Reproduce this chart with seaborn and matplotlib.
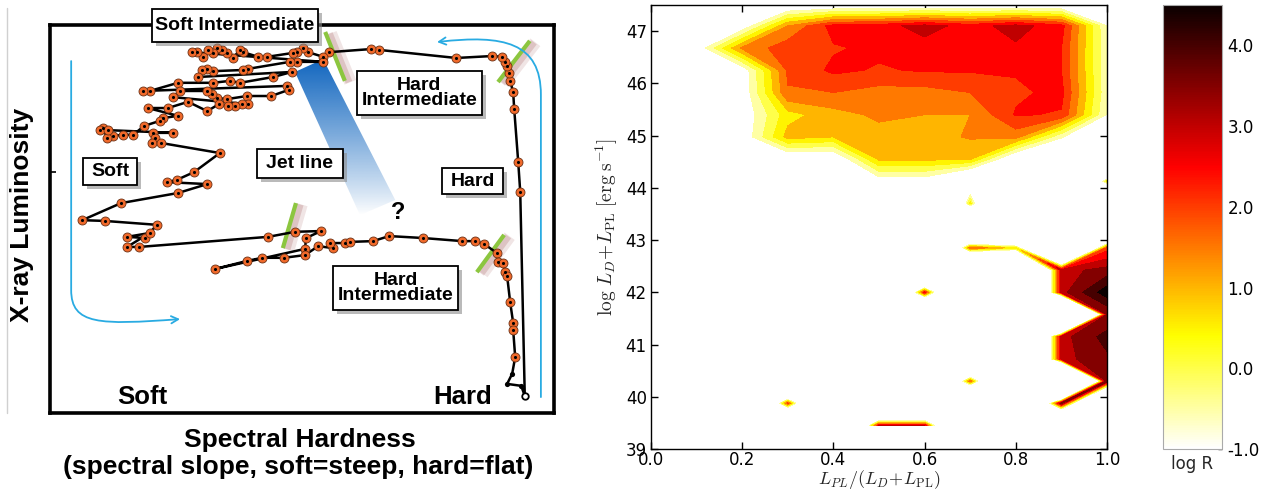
import numpy as np
import matplotlib
matplotlib.use("Agg")
import matplotlib.pyplot as plt
import matplotlib.patheffects as pe
from matplotlib.patches import Rectangle, Polygon, FancyArrowPatch
from matplotlib.path import Path
from matplotlib.colors import Normalize
from matplotlib.cm import ScalarMappable
from matplotlib.lines import Line2D
from matplotlib.tri import Triangulation
import pandas as pd
import seaborn as sns

sns.set_style("white", {"axes.edgecolor": "black", "xtick.color": "black",
                        "ytick.color": "black", "text.color": "black"})
plt.rcParams["font.family"] = ["DejaVu Sans"]
plt.rcParams["mathtext.fontset"] = "cm"
plt.rcParams["axes.unicode_minus"] = False

BOLD = dict(family="Liberation Sans", weight="bold")

# ---------------------------------------------------------------------------
# Left panel: hardness-intensity track (hardness and luminosity in % of box)
# ---------------------------------------------------------------------------
track_hardness = [
    94.2, 93.3, 92.9, 92.1, 91.9, 91.3, 91.1, 90.7, 90.3, 89.7, 87.7, 80.6, 65.3, 63.7,
    55.4, 54.2, 51.2, 50.2, 49.0, 48.2, 43.1, 41.3, 38.3, 37.7, 36.3, 35.1, 34.1, 33.1,
    32.3, 31.4, 30.4, 29.2, 28.2, 54.2, 49.0, 47.6, 39.3, 38.3, 32.3, 31.2, 30.2, 29.4,
    48.0, 44.3, 37.7, 35.7, 32.3, 25.4, 19.8, 18.5, 47.0, 47.4, 43.9, 39.1, 35.1, 33.1,
    32.1, 31.2, 25.8, 24.4, 39.3, 38.1, 36.7, 35.3, 33.5, 31.2, 27.4, 23.4, 19.4, 25.4,
    22.4, 21.8, 18.7, 16.5, 14.5, 12.5, 11.3, 10.5, 9.9, 11.5, 24.4, 20.4, 20.8, 20.2,
    22.0, 33.7, 28.6, 25.2, 23.2, 31.2, 25.4, 14.1, 6.4, 10.9, 21.2, 18.9, 15.3, 19.8,
    15.3, 17.7, 43.3, 48.6, 53.8, 50.8, 50.6, 32.7, 39.1, 42.1, 46.4, 50.6, 53.2, 56.2,
    55.6, 58.5, 59.5, 64.1, 67.3, 74.0, 81.8, 84.3, 86.1, 88.7, 88.9, 89.9, 90.3, 90.7,
    91.3, 91.9, 91.9, 92.3, 91.7, 90.7, 93.5, 94.2,
]
track_luminosity = [
    4.4, 57.0, 64.7, 78.4, 82.7, 85.6, 87.6, 89.4, 90.5, 91.8, 92.0, 91.5, 93.6, 93.8,
    93.0, 91.8, 93.0, 94.1, 93.0, 92.8, 91.8, 91.8, 93.0, 93.6, 91.5, 92.8, 93.6, 94.1,
    92.8, 93.6, 91.8, 93.0, 93.0, 90.5, 90.5, 90.5, 88.7, 88.4, 88.1, 88.7, 88.4, 86.6,
    87.9, 86.6, 85.1, 85.6, 85.1, 85.1, 83.0, 83.0, 84.3, 83.3, 81.7, 81.7, 80.9, 81.2,
    82.2, 83.0, 83.0, 81.4, 79.6, 79.6, 79.1, 79.1, 79.6, 77.8, 80.2, 78.6, 78.6, 76.6,
    76.0, 75.3, 74.0, 71.7, 71.7, 71.4, 70.9, 73.5, 72.9, 72.9, 72.2, 72.2, 70.9, 69.6,
    69.6, 67.0, 62.1, 60.1, 59.5, 59.0, 56.7, 54.1, 49.7, 49.5, 48.5, 45.1, 45.4, 46.4,
    42.8, 42.8, 45.4, 46.7, 46.9, 45.1, 42.3, 37.1, 39.2, 40.0, 40.0, 40.7, 43.0, 42.5,
    43.8, 43.8, 44.1, 44.3, 45.6, 45.1, 44.3, 44.3, 43.6, 41.2, 38.9, 38.7, 36.3, 35.3,
    28.6, 23.2, 21.4, 14.4, 10.1, 7.5, 7.0, 4.4,
]

# state labels: text, box x0, box width, box y0, box height (same % units)
state_text = ["Soft Intermediate", "Hard\nIntermediate", "Jet line", "Soft", "Hard",
              "Hard\nIntermediate"]
state_x0 = [20.2, 60.9, 41.1, 6.6, 77.8, 56.2]
state_w = [32.9, 24.8, 17.0, 10.7, 12.1, 24.8]
state_y0 = [95.6, 76.8, 60.6, 58.8, 56.4, 26.6]
state_h = [8.5, 11.3, 7.5, 7.0, 6.7, 11.3]

# state transition markers (green bars): endpoints
transition_h = [(54.6, 58.5), (95.2, 88.9), (48.8, 46.2), (90.1, 84.7)]
transition_l = [(98.2, 85.6), (95.9, 85.3), (54.1, 42.5), (45.9, 36.3)]

# jet line band corners
jet_h = [48.6, 54.2, 68.5, 61.5]
jet_l = [87.9, 91.2, 54.9, 51.0]

# ---------------------------------------------------------------------------
# Right panel: log R on a grid of power-law fraction vs. total luminosity
# ---------------------------------------------------------------------------
frac_pl = [0.0, 0.1, 0.2, 0.3, 0.4, 0.5, 0.6, 0.7, 0.8, 0.9, 1.0]
log_lum = [39.45, 39.875, 40.3, 40.725, 41.15, 41.575, 42.0, 42.425, 42.85, 43.275,
           43.7, 44.125, 44.55, 44.975, 45.4, 45.825, 46.25, 46.675, 47.1, 47.525]
E = -14.0  # empty bin
log_r = [
    [E, E, E, E, E, 2.6, 2.6, E, E, E, E],
    [E, E, E, 1.8, E, E, E, E, E, 3.4, E],
    [E, E, E, E, E, E, E, 1.5, E, -25.0, 3.5],
    [E, E, E, E, E, E, E, E, E, 2.8, 3.4],
    [E, E, E, E, E, E, E, E, E, 2.8, 3.7],
    [E, E, E, E, E, E, E, E, E, -25.0, 3.0],
    [E, E, E, E, E, E, 2.3, E, E, 2.8, 4.3],
    [E, E, E, E, E, E, E, E, E, 2.8, 3.2],
    [E, E, E, E, E, E, E, 1.5, 0.2, E, 1.8],
    [E, E, E, E, E, E, E, E, E, E, E],
    [E, E, E, E, E, E, E, 0.3, E, E, E],
    [E, E, E, E, -2.0, -1.4, -1.4, -3.0, E, E, 0.3],
    [E, E, -2.0, -1.8, -1.8, 0.6, 0.6, 0.55, -2.0, -2.0, E],
    [E, -2.0, -1.5, 0.7, 0.5, 0.8, 0.8, 1.05, 1.2, -0.95, -2.0],
    [E, -2.0, -1.5, 0.3, 0.8, 1.1, 1.0, 1.0, 2.05, 1.95, -1.05],
    [E, -2.0, -1.5, 1.45, 1.5, 1.3, 1.3, 1.5, 1.9, 2.15, -0.9],
    [E, -2.0, -1.45, 1.6, 2.1, 1.95, 2.05, 2.05, 2.05, 2.0, -0.9],
    [E, -1.5, 1.1, 1.8, 1.95, 2.1, 2.3, 2.2, 2.42, 2.0, -0.9],
    [E, -2.0, -1.5, 1.0, 2.2, 2.3, 2.7, 2.3, 2.7, 2.2, -1.0],
    [E, E, -2.0, -2.0, -2.0, -2.0, -2.0, -2.0, -2.0, -2.0, -2.0],
]
# saddle cells joined along a diagonal: (column, row) of lower-left node, diagonal
saddle_cells = [(8, 7, "falling"), (9, 1, "rising")]
levels = [-1.0, -0.5, 0.0, 0.5, 1.0, 1.5, 2.0, 2.5, 3.0, 3.5, 4.0, 4.5]
cbar_ticks = [-1.0, 0.0, 1.0, 2.0, 3.0, 4.0]

W, H = 1262, 493
fig = plt.figure(figsize=(W / 100, H / 100), dpi=100)

# ----------------------------- left panel ---------------------------------
ax = fig.add_axes([50 / W, 1 - 413 / H, 504 / W, 388 / H])
ax.set_xlim(0, 100)
ax.set_ylim(0, 100)
for s in ax.spines.values():
    s.set_linewidth(2.6)
    s.set_color("black")
ax.set_xticks([])
ax.set_yticks([62])
ax.set_yticklabels([])
ax.tick_params(axis="y", direction="in", length=4, width=1.2, left=True)

# jet line: blue band fading to white
band = Polygon(np.column_stack([jet_h, jet_l]), closed=True, fc="none", ec="none")
ax.add_patch(band)
ramp = np.linspace(0, 1, 256)[:, None] * np.ones((1, 2))
rgba = np.zeros((256, 2, 4))
rgba[..., 0], rgba[..., 1], rgba[..., 2] = 0.07, 0.40, 0.75
rgba[..., 3] = ramp ** 0.9
im = ax.imshow(rgba, extent=[min(jet_h), max(jet_h), min(jet_l), max(jet_l)],
               origin="lower", aspect="auto", zorder=1, interpolation="bilinear")
im.set_clip_path(band)

# state transitions
for th, tl in zip(transition_h, transition_l):
    ax.plot(th, tl, color="#8cc63f", lw=3.0, solid_capstyle="butt", zorder=2,
            path_effects=[pe.SimpleLineShadow(offset=(4, -1), shadow_color="#8a2a2a",
                                              alpha=0.12, linewidth=9),
                          pe.SimpleLineShadow(offset=(3, -1), shadow_color="#8a2a2a",
                                              alpha=0.18, linewidth=5),
                          pe.Normal()])

track = pd.DataFrame({"hardness": track_hardness, "luminosity": track_luminosity})
sns.lineplot(data=track, x="hardness", y="luminosity", sort=False, estimator=None,
             color="black", lw=1.8, ax=ax, zorder=3)
dots = track.iloc[1:130]
sns.scatterplot(data=dots, x="hardness", y="luminosity", s=42, color="#f0692a",
                edgecolor="#6b3014", linewidth=0.6, ax=ax, zorder=4, legend=False)
sns.scatterplot(data=dots, x="hardness", y="luminosity", s=5, color="black",
                linewidth=0, ax=ax, zorder=5, legend=False)
sns.scatterplot(data=track.iloc[130:133], x="hardness", y="luminosity", s=14,
                color="black", linewidth=0, ax=ax, zorder=5, legend=False)
sns.scatterplot(data=track.iloc[:1], x="hardness", y="luminosity", s=22,
                color="white", edgecolor="black", linewidth=1.3, ax=ax, zorder=5,
                legend=False)
ax.set_xlabel("")
ax.set_ylabel("")

# evolution arrows
arrow_kw = dict(arrowstyle="->,head_length=5,head_width=2.6", color="#29abe2",
                lw=1.3, zorder=2, mutation_scale=1)
left_path = Path([(4.2, 90.7), (4.2, 31.7), (4.2, 22.7), (9.9, 22.7), (25.8, 24.2)],
                 [Path.MOVETO, Path.LINETO, Path.CURVE4, Path.CURVE4, Path.CURVE4])
right_path = Path([(97.4, 4.1), (97.4, 82.0), (97.4, 95.5), (90.0, 97.6), (76.8, 95.6)],
                  [Path.MOVETO, Path.LINETO, Path.CURVE4, Path.CURVE4, Path.CURVE4])
for p in (left_path, right_path):
    ax.add_patch(FancyArrowPatch(path=p, **arrow_kw))

# state label boxes
for txt, x0, w, y0, h in zip(state_text, state_x0, state_w, state_y0, state_h):
    r = Rectangle((x0, y0), w, h, fc="white", ec="black", lw=1.3, zorder=6,
                  clip_on=False,
                  path_effects=[pe.SimplePatchShadow(offset=(3, -3), shadow_rgbFace="0.55",
                                                     alpha=0.6), pe.Normal()])
    ax.add_patch(r)
    ax.text(x0 + w / 2, y0 + h / 2, txt, ha="center", va="center", fontsize=14,
            linespacing=0.88, zorder=7, clip_on=False, **BOLD)

ax.text(69.1, 51.6, "?", ha="center", va="center", fontsize=17, zorder=7, **BOLD)
ax.text(18.3, 4.0, "Soft", ha="center", va="center", fontsize=18.5, zorder=7, **BOLD)
ax.text(81.8, 4.0, "Hard", ha="center", va="center", fontsize=18.5, zorder=7, **BOLD)

fig.text(22 / W, 1 - 215 / H, "X-ray Luminosity", rotation=90, ha="center",
         va="center", fontsize=19, **BOLD)
fig.text(300 / W, 1 - 447 / H, "Spectral Hardness", ha="center", va="baseline",
         fontsize=19, **BOLD)
fig.text(298 / W, 1 - 474 / H, "(spectral slope, soft=steep, hard=flat)", ha="center",
         va="baseline", fontsize=19, **BOLD)
fig.add_artist(Line2D([7 / W, 7 / W], [1 - 8 / H, 1 - 413 / H], color="#d0d0d0",
                      lw=1, transform=fig.transFigure))

# ----------------------------- right panel --------------------------------
ax2 = fig.add_axes([651 / W, 1 - 449 / H, 456 / W, 444 / H])
cmap = plt.get_cmap("hot_r")
norm = Normalize(vmin=-1.0, vmax=4.5)
band_colors = [cmap(norm(v)) for v in levels[1:]]
Z = np.array(log_r)
X, Y = np.meshgrid(frac_pl, log_lum)
ax2.contourf(X, Y, Z, levels=levels, colors=band_colors)

# saddle cells: contour the two triangles that keep the ridge diagonal joined
for i, j, diag in saddle_cells:
    cx = [frac_pl[i], frac_pl[i + 1], frac_pl[i], frac_pl[i + 1]]
    cy = [log_lum[j], log_lum[j], log_lum[j + 1], log_lum[j + 1]]
    cz = [Z[j, i], Z[j, i + 1], Z[j + 1, i], Z[j + 1, i + 1]]
    tris = [[0, 1, 3], [0, 3, 2]] if diag == "rising" else [[0, 1, 2], [1, 3, 2]]
    ax2.tricontourf(Triangulation(cx, cy, tris), cz, levels=levels, colors=band_colors)

ax2.set_xlim(0, 1)
ax2.set_ylim(39, 47.5)
ax2.set_xticks([0.0, 0.2, 0.4, 0.6, 0.8, 1.0])
ax2.set_yticks([39, 40, 41, 42, 43, 44, 45, 46, 47])
ax2.xaxis.set_major_formatter(matplotlib.ticker.FormatStrFormatter("%.1f"))
ax2.tick_params(direction="in", top=True, right=True, bottom=True, left=True,
                length=5, width=1, labelsize=12, pad=3)
ax2.tick_params(axis="x", pad=1.5)
for s in ax2.spines.values():
    s.set_linewidth(1.0)
    s.set_color("black")
ax2.set_xlabel(r"$L_{PL}/(L_D\!+\!L_{\rm PL})$", fontsize=13, labelpad=-0.5)
ax2.set_ylabel(r"$\log\,L_D\!+\!L_{\rm PL}\;[{\rm erg\;s^{-1}}]$", fontsize=14,
               labelpad=4)

cax = fig.add_axes([1163 / W, 1 - 449 / H, 59 / W, 444 / H])
cbar = fig.colorbar(ScalarMappable(norm=norm, cmap=cmap), cax=cax, ticks=cbar_ticks,
                    format="%.1f")
cbar.outline.set_edgecolor("#aaaaaa")
cbar.outline.set_linewidth(0.8)
cax.tick_params(direction="in", length=3, width=1, labelsize=12, pad=4)
cax.set_xlabel("log R", fontsize=12, labelpad=4)

fig.savefig("out.png", dpi=100)
